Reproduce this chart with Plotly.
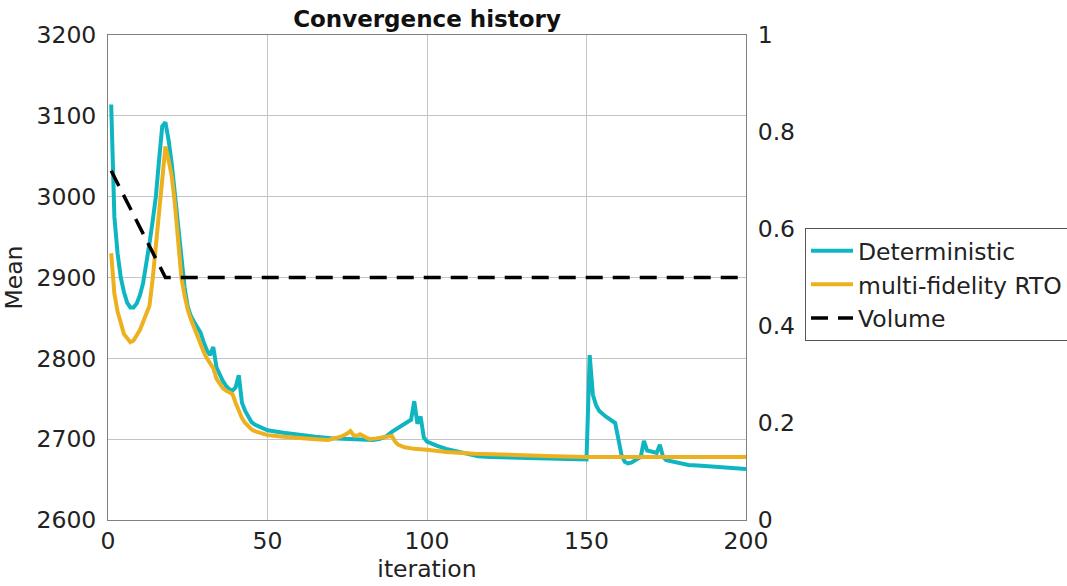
import plotly.graph_objects as go

# ---- data ----
det_iter = [1, 2, 3, 4, 5, 6, 7, 8, 9, 10, 11, 12, 13, 14, 15, 16, 17, 18, 19, 20,
            21, 22, 23, 24, 25, 26, 27, 28, 29, 30, 31, 32, 33, 34, 35, 36, 37, 38, 39, 40,
            41, 42, 43, 44, 45, 46, 48, 50, 55, 60, 65, 70, 75, 80, 83, 85, 87, 89, 91, 93,
            95, 96, 97, 98, 99, 100, 101, 103, 106, 110, 116, 120, 130, 140, 150, 151, 152, 153, 154, 156,
            158, 159, 160, 161, 162, 163, 164, 165, 166, 167, 168, 169, 170, 172, 173, 174, 175, 178, 182, 186,
            190, 195, 199, 200]
det_mean = [3114, 2975, 2930, 2900, 2882, 2869, 2863, 2863, 2868, 2878, 2893, 2915, 2942, 2970, 3000, 3045, 3087, 3092, 3070, 3040,
            3000, 2965, 2925, 2888, 2864, 2852, 2845, 2838, 2832, 2820, 2810, 2804, 2814, 2789, 2780, 2772, 2766, 2762, 2760, 2764,
            2779, 2745, 2735, 2727, 2721, 2718, 2714, 2711, 2708, 2705, 2703, 2701, 2700, 2699, 2699, 2700, 2703, 2709, 2714, 2719,
            2724, 2747, 2719, 2728, 2702, 2697, 2695, 2692, 2688, 2684, 2679, 2678, 2677, 2676, 2675, 2804, 2755, 2742, 2735, 2728,
            2723, 2720, 2700, 2680, 2672, 2670, 2671, 2673, 2676, 2678, 2698, 2686, 2685, 2683, 2693, 2678, 2674, 2671, 2668, 2667,
            2666, 2665, 2664, 2663]

mf_iter = [1, 2, 3, 4, 5, 6, 7, 8, 9, 10, 11, 12, 13, 14, 15, 16, 17, 18, 19, 20,
           21, 22, 23, 24, 25, 26, 27, 28, 29, 30, 31, 32, 33, 34, 35, 36, 37, 38, 39, 40,
           41, 42, 43, 44, 45, 46, 48, 50, 55, 60, 65, 69, 71, 73, 75, 76, 77, 78, 79, 80,
           82, 84, 86, 88, 89, 90, 91, 93, 96, 100, 106, 115, 127, 140, 150, 160, 175, 200]
mf_mean = [2930, 2880, 2858, 2845, 2830, 2825, 2820, 2822, 2828, 2835, 2845, 2855, 2865, 2898, 2940, 2985, 3025, 3062, 3045, 3025,
           2990, 2945, 2900, 2878, 2860, 2848, 2838, 2825, 2818, 2808, 2800, 2795, 2788, 2775, 2768, 2763, 2760, 2758, 2756, 2745,
           2735, 2726, 2720, 2716, 2712, 2710, 2707, 2705, 2703, 2701, 2700, 2699, 2701, 2703, 2707, 2710, 2705, 2704, 2706, 2704,
           2700, 2701, 2702, 2703, 2704, 2697, 2693, 2690, 2688, 2687, 2684, 2682, 2680, 2679, 2678, 2678, 2678, 2678]

vol_iter = [1, 18, 200]
vol_value = [0.72, 0.50, 0.50]

x_ticks = [0, 50, 100, 150, 200]
y_ticks = [2600, 2700, 2800, 2900, 3000, 3100, 3200]
y2_ticks = [0, 0.2, 0.4, 0.6, 0.8, 1]
y2_labels = ["0", "0.2", "0.4", "0.6", "0.8", "1"]

TEAL = "#0FB6C2"
ORANGE = "#EDB120"
FONT = "DejaVu Sans"
TXT = "#222222"

fig = go.Figure()
fig.add_trace(go.Scatter(x=det_iter, y=det_mean, mode="lines", name="Deterministic",
                         line=dict(color=TEAL, width=4)))
fig.add_trace(go.Scatter(x=mf_iter, y=mf_mean, mode="lines", name="multi-fidelity RTO",
                         line=dict(color=ORANGE, width=4)))
fig.add_trace(go.Scatter(x=vol_iter, y=vol_value, mode="lines", name="Volume", yaxis="y2",
                         line=dict(color="black", width=3.5, dash="17px,10px")))

axis_common = dict(showline=True, linecolor="#808080", linewidth=1,
                   tickfont=dict(family=FONT, size=23.5, color=TXT),
                   zeroline=False, ticks="", automargin=False)

fig.update_layout(
    width=1067, height=586, autosize=False,
    margin=dict(l=108, r=321, t=35, b=66, autoexpand=False),
    paper_bgcolor="white", plot_bgcolor="white",
    font=dict(family=FONT, size=23.5, color=TXT),
    title=dict(text="<b>Convergence history</b>", x=0.5, xanchor="center", xref="paper",
               y=0.967, yanchor="middle", font=dict(family=FONT, size=23, color="#111111"),
               automargin=False),
    xaxis=dict(range=[0, 200], tickvals=x_ticks, showgrid=True, gridcolor="#C4C4C4",
               mirror=True, title=dict(text="iteration", standoff=6,
                                       font=dict(family=FONT, size=23.5)),
               **axis_common),
    yaxis=dict(range=[2600, 3200], tickvals=y_ticks, showgrid=True, gridcolor="#C4C4C4",
               title=dict(text="Mean", standoff=12, font=dict(family=FONT, size=23.5)),
               ticklabelstandoff=6, **axis_common),
    yaxis2=dict(range=[0, 1], tickvals=y2_ticks, ticktext=y2_labels, overlaying="y",
                side="right", showgrid=False, ticklabelstandoff=6, **axis_common),
    legend=dict(x=1.0925, y=0.602, xanchor="left", yanchor="top", xref="paper", yref="paper",
                bordercolor="#555555", borderwidth=1, bgcolor="white",
                font=dict(family=FONT, size=23.5, color=TXT), itemwidth=42,
                tracegroupgap=0),
    showlegend=True,
)

post = ("document.body.style.margin='0';document.body.style.padding='0';"
        "document.body.style.overflow='hidden';"
        "var gd=document.getElementById('{plot_id}');"
        "Plotly.relayout(gd,{width:1067,height:586});")

fig.write_html("out.html", post_script=post,
               config={"responsive": False, "displayModeBar": False})
